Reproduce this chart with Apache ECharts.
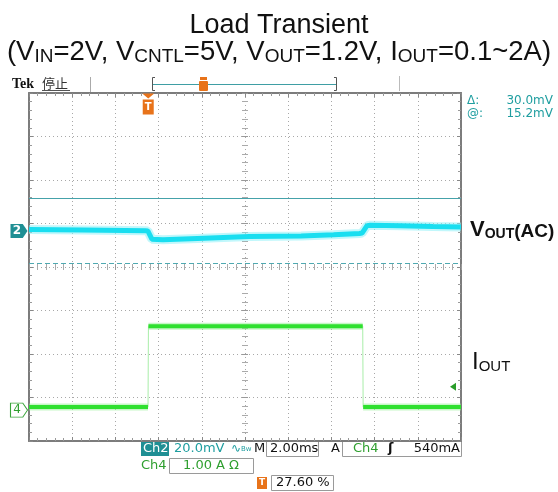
<!DOCTYPE html>
<html>
<head>
<meta charset="utf-8">
<title>Load Transient</title>
<script src="https://cdn.jsdelivr.net/npm/echarts@6.0.0/dist/echarts.min.js"></script>
<style>
  html, body { margin: 0; padding: 0; background: #fff; }
  #scope { width: 558px; height: 492px; }
</style>
</head>
<body>
<div id="scope"></div>
<script>
// time is counted from the left edge of the screen, in ms
var ch2Time = [0, 2.5, 5.4, 5.5, 5.69, 6.2, 7.8, 10.2, 12.6, 14.1, 15.3, 15.42, 15.65, 15.8, 17.2, 18.7, 20];
var ch2MilliVolt = [0.6, 0.4, 0.1, 0.0, -3.8, -4.1, -3.5, -2.6, -2.4, -1.8, -1.2, -1.0, 2.4, 2.6, 2.4, 2.0, 1.8];
var ch4Time = [0, 5.51, 5.53, 15.45, 15.47, 20];
var ch4Amp = [0.07, 0.07, 1.93, 1.93, 0.07, 0.07];
var cursorMilliVolt = [15.2, -14.8];

// scope settings
var timePerDiv = 2;        // ms
var ch2PerDiv = 20;        // mV
var ch4PerDiv = 1;         // A
var ch2PosDiv = 0.83;      // channel ground marker, in divisions from center
var ch4PosDiv = -3.29;
var triggerPercent = 27.6;
var triggerLevelAmp = 0.54;

var triggerTime = triggerPercent / 100 * timePerDiv * 10;
var ch2Min = (-4 - ch2PosDiv) * ch2PerDiv, ch2Max = (4 - ch2PosDiv) * ch2PerDiv;
var ch4Min = (-4 - ch4PosDiv) * ch4PerDiv, ch4Max = (4 - ch4PosDiv) * ch4PerDiv;

var teal = '#1f9ea0', green = '#2f9f2f', orange = '#e8731a';
var mono = 'DejaVu Sans';

function pairs(t, v) {
  return t.map(function (x, i) { return [x, v[i]]; });
}
// the fast edges are drawn faint on the scope, so cut them out of the thick trace
function flatParts(t, v) {
  var out = [];
  for (var i = 0; i < t.length; i++) {
    if (i > 0 && t[i] - t[i - 1] < 0.05) out.push([t[i], '-']);
    out.push([t[i], v[i]]);
  }
  return out;
}

var borderAxisLine = { onZero: false, lineStyle: { color: '#7c7c7c', width: 2 } };
var borderTick = { show: true, inside: true, length: 4, lineStyle: { color: '#888' } };
var borderMinor = { show: true, splitNumber: 5, length: 3, lineStyle: { color: '#999' } };
var dots = { show: true, lineStyle: { color: '#a8a8a8', width: 1, type: [1, 3] } };
var centerTick = { show: true, inside: false, length: 3, lineStyle: { color: '#999' } };
var centerMinor = { show: true, splitNumber: 5, length: 3, lineStyle: { color: '#aaa' } };
var rect = { left: 29, top: 93, width: 432, height: 348 };

function boxText(x, y, str, color, weight) {
  return {
    type: 'text', x: x, y: y, silent: true,
    style: { text: str, fill: color, font: (weight || 'normal') + ' 13px ' + mono, verticalAlign: 'middle' }
  };
}
function outline(x, y, w, h) {
  return { type: 'rect', shape: { x: x, y: y, width: w, height: h }, silent: true,
    style: { fill: 'none', stroke: '#9a9a9a', lineWidth: 1 } };
}

var option = {
  animation: false,
  backgroundColor: '#fff',
  title: [{
    text: 'Load Transient',
    left: 'center', top: 7,
    textStyle: { fontFamily: 'Liberation Sans', fontSize: 27, fontWeight: 'normal', color: '#111' }
  }, {
    text: '(V{s|IN}=2V, V{s|CNTL}=5V, V{s|OUT}=1.2V, I{s|OUT}=0.1~2A)',
    left: 'center', top: 33,
    textStyle: {
      fontFamily: 'Liberation Sans', fontSize: 27.5, fontWeight: 'normal', color: '#111',
      rich: { s: { fontFamily: 'Liberation Sans', fontSize: 19, color: '#111', verticalAlign: 'bottom' } }
    }
  }],
  grid: [
    Object.assign({ outerBoundsMode: 'none', containLabel: false }, rect),
    Object.assign({ outerBoundsMode: 'none', containLabel: false }, rect)
  ],
  xAxis: [
    { gridIndex: 0, type: 'value', min: 0, max: timePerDiv * 10, interval: timePerDiv, position: 'bottom',
      axisLine: borderAxisLine, axisTick: borderTick, minorTick: borderMinor, splitLine: dots, axisLabel: { show: false } },
    { gridIndex: 0, type: 'value', min: 0, max: timePerDiv * 10, interval: timePerDiv, position: 'top',
      axisLine: borderAxisLine, axisTick: borderTick, minorTick: borderMinor, splitLine: { show: false }, axisLabel: { show: false } },
    { gridIndex: 1, type: 'value', min: -10, max: 10, interval: 2, position: 'bottom',
      axisLine: { show: false, onZero: true }, axisTick: centerTick, minorTick: centerMinor, splitLine: { show: false }, axisLabel: { show: false } },
    { gridIndex: 1, type: 'value', min: -10, max: 10, interval: 2, position: 'top',
      axisLine: { show: false, onZero: true }, axisTick: centerTick, minorTick: centerMinor, splitLine: { show: false }, axisLabel: { show: false } }
  ],
  yAxis: [
    { gridIndex: 0, type: 'value', min: -4, max: 4, interval: 1, position: 'left',
      axisLine: borderAxisLine, axisTick: borderTick, minorTick: borderMinor, splitLine: dots, axisLabel: { show: false } },
    { gridIndex: 0, type: 'value', min: -4, max: 4, interval: 1, position: 'right',
      axisLine: borderAxisLine, axisTick: borderTick, minorTick: borderMinor, splitLine: { show: false }, axisLabel: { show: false } },
    { gridIndex: 0, type: 'value', min: ch2Min, max: ch2Max, show: false },
    { gridIndex: 0, type: 'value', min: ch4Min, max: ch4Max, show: false },
    { gridIndex: 1, type: 'value', min: -4, max: 4, interval: 1, position: 'left',
      axisLine: { show: false, onZero: true }, axisTick: centerTick, minorTick: centerMinor, splitLine: { show: false }, axisLabel: { show: false } },
    { gridIndex: 1, type: 'value', min: -4, max: 4, interval: 1, position: 'right',
      axisLine: { show: false, onZero: true }, axisTick: centerTick, minorTick: centerMinor, splitLine: { show: false }, axisLabel: { show: false } }
  ],
  series: [
    { name: 'Ch2 haze', type: 'line', xAxisIndex: 0, yAxisIndex: 2, data: pairs(ch2Time, ch2MilliVolt),
      symbol: 'none', silent: true, z: 3, lineStyle: { color: '#8ef0f7', width: 9, opacity: 0.55 } },
    { name: 'Ch2', type: 'line', xAxisIndex: 0, yAxisIndex: 2, data: pairs(ch2Time, ch2MilliVolt),
      symbol: 'none', silent: true, z: 4, lineStyle: { color: '#19def0', width: 5 },
      markLine: {
        silent: true, symbol: 'none', label: { show: false }, animation: false,
        data: [
          { yAxis: cursorMilliVolt[0], lineStyle: { type: 'solid', color: '#45a2aa', width: 1.2 } },
          { yAxis: cursorMilliVolt[1], lineStyle: { type: [5, 3], color: '#4fa9b1', width: 1.2 } }
        ]
      },
      markPoint: {
        silent: true, animation: false,
        data: [{
          coord: [0, 0], symbol: 'path://M0,0 L13,0 L18,7 L13,14 L0,14 Z', symbolSize: [17, 14], symbolOffset: [-10, 0],
          itemStyle: { color: '#1f8f94' },
          label: { show: true, formatter: '2', color: '#fff', fontWeight: 'bold', fontSize: 12, fontFamily: mono, offset: [-2, 0] }
        }]
      }
    },
    { name: 'Ch4 edge', type: 'line', xAxisIndex: 0, yAxisIndex: 3, data: pairs(ch4Time, ch4Amp),
      symbol: 'none', silent: true, z: 3, lineStyle: { color: '#a9eea9', width: 1 } },
    { name: 'Ch4 haze', type: 'line', xAxisIndex: 0, yAxisIndex: 3, data: flatParts(ch4Time, ch4Amp),
      symbol: 'none', silent: true, z: 3, lineStyle: { color: '#8ff08f', width: 7, opacity: 0.5 } },
    { name: 'Ch4', type: 'line', xAxisIndex: 0, yAxisIndex: 3, data: flatParts(ch4Time, ch4Amp),
      symbol: 'none', silent: true, z: 4, lineStyle: { color: '#2fe02f', width: 4 },
      markPoint: {
        silent: true, animation: false,
        data: [{
          coord: [0, 0], symbol: 'path://M0,0 L13,0 L18,7 L13,14 L0,14 Z', symbolSize: [17, 14], symbolOffset: [-10, 0],
          itemStyle: { color: '#fff', borderColor: '#3aa53a', borderWidth: 1 },
          label: { show: true, formatter: '4', color: green, fontSize: 12, fontFamily: mono, offset: [-2, 0] }
        }, {
          coord: [timePerDiv * 10, triggerLevelAmp], symbol: 'path://M8,0 L8,9 L0,4.5 Z', symbolSize: [6, 8], symbolOffset: [-8, 0],
          itemStyle: { color: '#2a9d2a' }, label: { show: false }
        }, {
          coord: [triggerTime, ch4Max], symbol: 'path://M0,0 L12,0 L6,5 Z M0.5,6 L11.5,6 L11.5,21 L0.5,21 Z',
          symbolSize: [12, 21], symbolOffset: [0, 11], itemStyle: { color: orange },
          label: { show: true, formatter: 'T', color: '#fff', fontWeight: 'bold', fontSize: 10, fontFamily: mono, offset: [0, 3] }
        }]
      }
    }
  ],
  graphic: [
    // top status line
    { type: 'text', x: 12, y: 84, silent: true,
      style: { text: 'Tek', fill: '#111', font: 'bold 14px "Liberation Serif"', verticalAlign: 'middle' } },
    { type: 'text', x: 42, y: 83, silent: true,
      style: { text: '停止', fill: '#333', font: '13px "Noto Sans CJK SC"', verticalAlign: 'middle' } },
    { type: 'line', shape: { x1: 42, y1: 90.5, x2: 70, y2: 90.5 }, silent: true, style: { stroke: '#555', lineWidth: 1 } },
    { type: 'line', shape: { x1: 90.5, y1: 77, x2: 90.5, y2: 92 }, silent: true, style: { stroke: '#aaa', lineWidth: 1 } },
    { type: 'polyline', shape: { points: [[155, 77.5], [152.5, 77.5], [152.5, 90.5], [155, 90.5]] }, silent: true, style: { stroke: '#555', fill: 'none', lineWidth: 1 } },
    { type: 'polyline', shape: { points: [[334, 77.5], [336.5, 77.5], [336.5, 90.5], [334, 90.5]] }, silent: true, style: { stroke: '#555', fill: 'none', lineWidth: 1 } },
    { type: 'line', shape: { x1: 153, y1: 84.5, x2: 336, y2: 84.5 }, silent: true, style: { stroke: '#3f9ea4', lineWidth: 1.2 } },
    { type: 'rect', shape: { x: 200, y: 77, width: 7, height: 3 }, silent: true, style: { fill: orange } },
    { type: 'rect', shape: { x: 199, y: 81, width: 9, height: 10, r: 1 }, silent: true, style: { fill: orange } },
    { type: 'line', shape: { x1: 399.5, y1: 76, x2: 399.5, y2: 91 }, silent: true, style: { stroke: '#bbb', lineWidth: 1 } },

    // cursor readout
    { type: 'text', x: 467, y: 101, silent: true,
      style: { text: 'Δ:', fill: teal, font: '12px ' + mono, verticalAlign: 'middle' } },
    { type: 'text', x: 553, y: 101, silent: true,
      style: { text: (cursorMilliVolt[0] - cursorMilliVolt[1]).toFixed(1) + 'mV', fill: teal, font: '12px ' + mono, align: 'right', verticalAlign: 'middle' } },
    { type: 'text', x: 467, y: 114, silent: true,
      style: { text: '@:', fill: teal, font: '12px ' + mono, verticalAlign: 'middle' } },
    { type: 'text', x: 553, y: 114, silent: true,
      style: { text: cursorMilliVolt[0].toFixed(1) + 'mV', fill: teal, font: '12px ' + mono, align: 'right', verticalAlign: 'middle' } },

    // trace names
    { type: 'text', x: 470, y: 230, silent: true,
      style: {
        text: '{v|V}{s|OUT}{p|(AC)}', verticalAlign: 'middle',
        rich: {
          v: { fontFamily: 'Liberation Sans', fontWeight: 'bold', fontSize: 22, fill: '#111', verticalAlign: 'bottom' },
          s: { fontFamily: 'Liberation Sans', fontWeight: 'bold', fontSize: 14, fill: '#111', verticalAlign: 'bottom' },
          p: { fontFamily: 'Liberation Sans', fontWeight: 'bold', fontSize: 19, fill: '#111', verticalAlign: 'bottom' }
        }
      } },
    { type: 'text', x: 472, y: 362, silent: true,
      style: {
        text: '{v|I}{s|OUT}', verticalAlign: 'middle',
        rich: {
          v: { fontFamily: 'Liberation Sans', fontSize: 24, fill: '#111', verticalAlign: 'bottom' },
          s: { fontFamily: 'Liberation Sans', fontSize: 15, fill: '#111', verticalAlign: 'bottom' }
        }
      } },

    // bottom readout, row 1
    { type: 'rect', shape: { x: 141, y: 442, width: 28, height: 14 }, silent: true, style: { fill: '#1f8f94' } },
    boxText(143, 449, 'Ch2', '#fff'),
    boxText(174, 449, ch2PerDiv.toFixed(1) + 'mV', teal),
    { type: 'text', x: 231, y: 449, silent: true,
      style: { text: '∿{b|Bw}', fill: teal, font: '12px ' + mono, verticalAlign: 'middle',
        rich: { b: { fontSize: 7, fontFamily: mono, fill: teal } } } },
    boxText(254, 449, 'M', '#111'),
    outline(266.5, 441.5, 52, 15),
    boxText(270, 449, timePerDiv.toFixed(2) + 'ms', '#111'),
    boxText(331, 449, 'A', '#111'),
    outline(342.5, 441.5, 119, 15),
    boxText(353, 449, 'Ch4', green),
    boxText(388, 449, 'ʃ', '#111', 'bold'),
    boxText(460, 449, Math.round(triggerLevelAmp * 1000) + 'mA', '#111'),
    // row 2
    boxText(141, 466, 'Ch4', green),
    outline(169.5, 458.5, 84, 15),
    boxText(183, 466, ch4PerDiv.toFixed(2) + ' A Ω', green),
    // row 3
    { type: 'rect', shape: { x: 257, y: 477, width: 10, height: 12 }, silent: true, style: { fill: orange } },
    { type: 'text', x: 262, y: 483, silent: true,
      style: { text: 'T', fill: '#fff', font: 'bold 9px ' + mono, align: 'center', verticalAlign: 'middle' } },
    outline(271.5, 475.5, 62, 15),
    boxText(276, 483, triggerPercent.toFixed(2) + ' %', '#111')
  ]
};

// right-align the trigger level value inside its box
option.graphic.forEach(function (g) {
  if (g.style && g.style.text === Math.round(triggerLevelAmp * 1000) + 'mA') g.style.align = 'right';
});

var myChart = echarts.init(document.getElementById('scope'));
myChart.setOption(option);
</script>
</body>
</html>
